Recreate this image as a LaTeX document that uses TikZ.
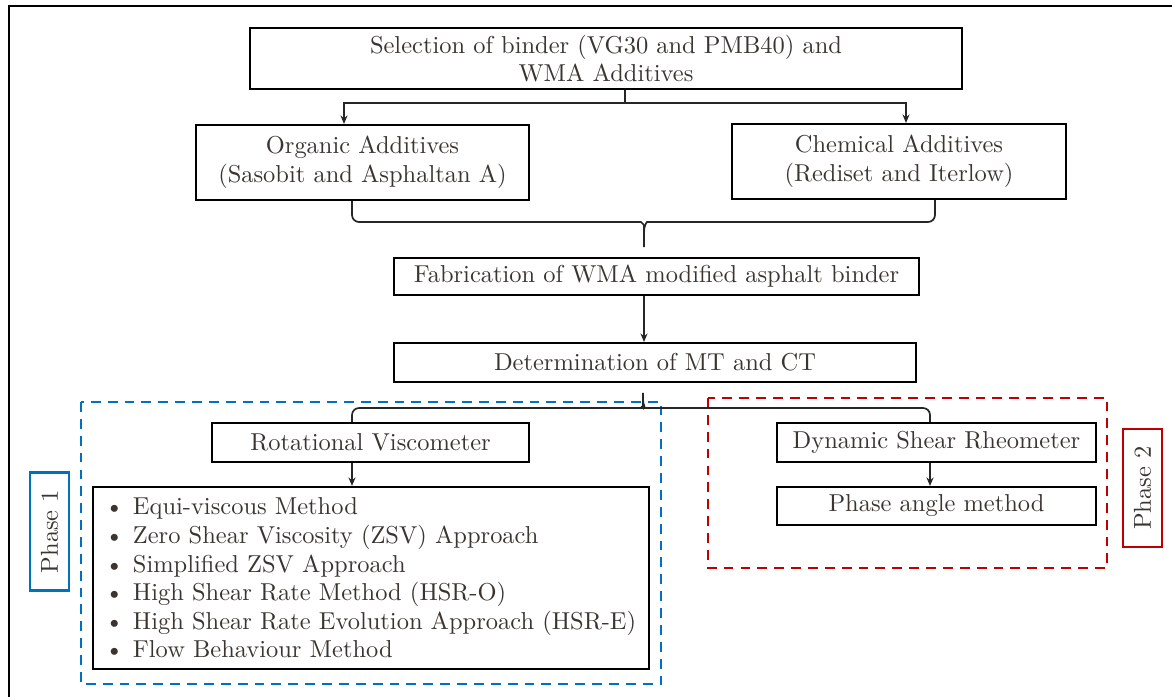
\documentclass[tikz,border=0pt]{standalone}
\usepackage{fontspec}
\setmainfont{lmroman10-regular.otf}
\usetikzlibrary{arrows.meta}
\definecolor{inkgrey}{RGB}{58,53,49}
\definecolor{phaseblue}{RGB}{0,112,192}
\definecolor{phasered}{RGB}{192,0,0}
\newcommand{\mitem}{\makebox[0.7cm][l]{\textbullet}}
\begin{document}
\begin{tikzpicture}[x=0.025cm,y=-0.025cm,font=\fontsize{17.4}{20.3}\selectfont,
  box/.style={draw,line width=1.5pt,text=inkgrey,align=center,inner sep=2pt},
  link/.style={line width=1.2pt,draw=black!85},
  arr/.style={link,-{Stealth[length=6pt,width=5pt]}},
  phasebox/.style={draw=#1,line width=1.8pt,dash pattern=on 7pt off 5pt},
  phasetag/.style={draw=#1,line width=1.5pt,rotate=90,text=inkgrey,minimum width=2.95cm,minimum height=0.975cm}]
  \useasboundingbox (0,0) rectangle (1172,697);
  % Frame
  \draw[line width=1.3pt] (9,697) -- (9,6) -- (1172,6);
  % Boxes
  \node[box,minimum width=17.8cm,minimum height=1.525cm] (sel) at (606,58.5) {Selection of binder (VG30 and PMB40) and\\WMA Additives};
  \node[box,minimum width=8.325cm,minimum height=1.875cm] (org) at (362.5,162.5) {Organic Additives\\(Sasobit and Asphaltan A)};
  \node[box,minimum width=8.35cm,minimum height=1.875cm] (chem) at (899,161.5) {Chemical Additives\\(Rediset and Iterlow)};
  \node[box,minimum width=13.125cm,minimum height=0.925cm] (fab) at (656.5,276.5) {Fabrication of WMA modified asphalt binder};
  \node[box,minimum width=13.05cm,minimum height=0.975cm] (mtct) at (655,362.5) {Determination of MT and CT};
  \node[box,minimum width=7.925cm,minimum height=0.975cm] (rv) at (370.5,442.5) {Rotational Viscometer};
  \node[box,align=left,text width=13.3cm,inner xsep=0.3cm,minimum height=4.55cm] (methods) at (371,578) {%
    \mitem Equi-viscous Method\\
    \mitem Zero Shear Viscosity (ZSV) Approach\\
    \mitem Simplified ZSV Approach\\
    \mitem High Shear Rate Method (HSR-O)\\
    \mitem High Shear Rate Evolution Approach (HSR-E)\\
    \mitem Flow Behaviour Method};
  \node[box,minimum width=7.975cm,minimum height=0.975cm] (dsr) at (936.5,442.5) {Dynamic Shear Rheometer};
  \node[box,minimum width=7.975cm,minimum height=0.95cm] (pam) at (936.5,506) {Phase angle method};
  % Phase regions
  \draw[phasebox=phaseblue] (81,402) rectangle (661,684);
  \draw[phasebox=phasered] (708,398) rectangle (1107,568);
  \node[phasetag=phaseblue] (tag1) at (49.5,531.5) {Phase 1};
  \node[phasetag=phasered] (tag2) at (1142.5,488) {Phase 2};
  % Connectors
  \coordinate (split) at (625,103);
  \coordinate (tapA) at (344,103);
  \coordinate (tapB) at (906,103);
  \draw[link] (sel.south -| split) -- (split);
  \draw[arr] (split) -| (org.north -| tapA);
  \draw[arr] (split) -| (chem.north -| tapB);
  % Brace into fabrication
  \coordinate (braceL) at (352,222);
  \coordinate (braceR) at (935,222);
  \coordinate (tipA) at (644,247);
  \draw[link,rounded corners=5] (org.south -| braceL) -- (braceL) -- (634,222) .. controls (641,222) and (644,225) .. (644,232) -- (tipA);
  \draw[link,rounded corners=5] (chem.south -| braceR) -- (braceR) -- (654,222) .. controls (647,222) and (644,225) .. (644,232);
  \draw[arr] (fab.south -| tipA) -- (mtct.north -| tipA);
  % Fork to the two phases
  \coordinate (forkL) at (352,408);
  \coordinate (forkR) at (930,408);
  \coordinate (tipB) at (643,393);
  \draw[link,rounded corners=5] (rv.north -| forkL) -- (forkL) -- (635,408) .. controls (640,408) and (643,405) .. (643,400) -- (tipB);
  \draw[link,rounded corners=5] (dsr.north -| forkR) -- (forkR) -- (651,408) .. controls (646,408) and (643,405) .. (643,400);
  \draw[arr] (rv.south -| forkL) -- (methods.north -| forkL);
  \draw[arr] (dsr.south -| forkR) -- (pam.north -| forkR);
\end{tikzpicture}
\end{document}
